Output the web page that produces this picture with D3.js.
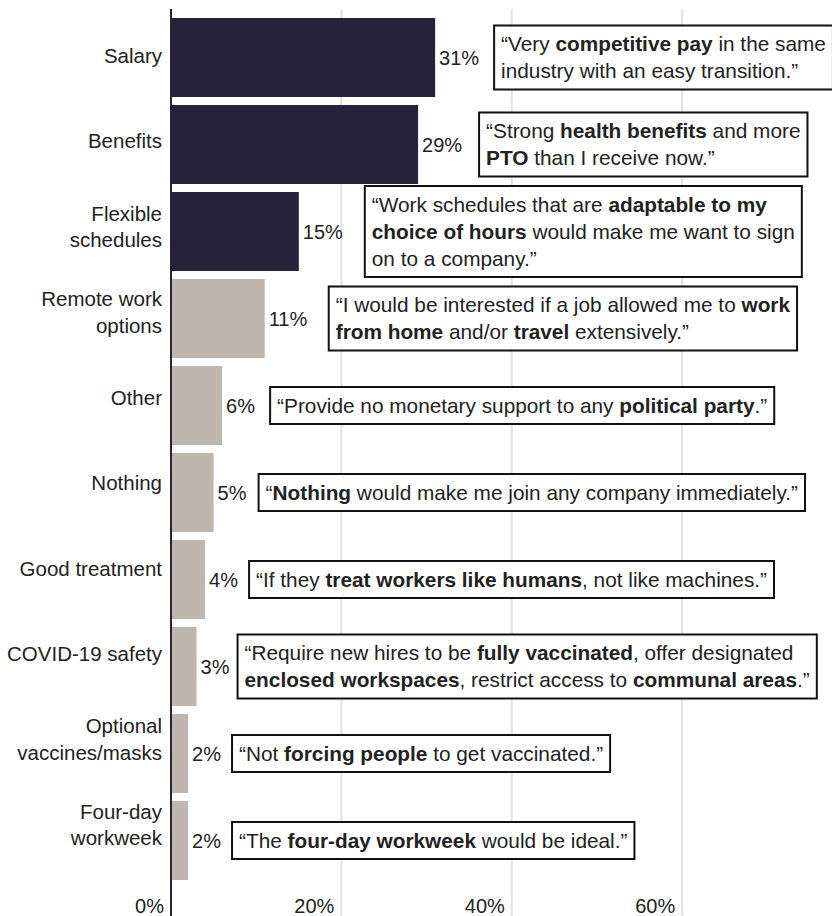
<!DOCTYPE html>
<html>
<head>
<meta charset="utf-8">
<script src="https://cdn.jsdelivr.net/npm/d3@7"></script>
<style>
  html, body { margin: 0; padding: 0; background: #fff; }
  svg { display: block; font-family: "Liberation Sans", Arial, sans-serif; }
</style>
</head>
<body>
<svg id="chart" width="832" height="916"></svg>
<script>
// Survey: what would make you want to join a company immediately (share of respondents)
const categories = [
  "Salary", "Benefits", "Flexible schedules", "Remote work options", "Other",
  "Nothing", "Good treatment", "COVID-19 safety", "Optional vaccines/masks", "Four-day workweek"
];
const categoryLines = [
  ["Salary"], ["Benefits"], ["Flexible", "schedules"], ["Remote work", "options"], ["Other"],
  ["Nothing"], ["Good treatment"], ["COVID-19 safety"], ["Optional", "vaccines/masks"], ["Four-day", "workweek"]
];
const values = [31, 29, 15, 11, 6, 5, 4, 3, 2, 2];
const highlighted = ["Salary", "Benefits", "Flexible schedules"];
const xTicks = [0, 20, 40, 60];

// Respondent quotes; **text** marks the bold phrases
const quotes = [
  ["“Very **competitive pay** in the same", "industry with an easy transition.”"],
  ["“Strong **health benefits** and more", "**PTO** than I receive now.”"],
  ["“Work schedules that are **adaptable to my**", "**choice of hours** would make me want to sign", "on to a company.”"],
  ["“I would be interested if a job allowed me to **work**", "**from home** and/or **travel** extensively.”"],
  ["“Provide no monetary support to any **political party**.”"],
  ["“**Nothing** would make me join any company immediately.”"],
  ["“If they **treat workers like humans**, not like machines.”"],
  ["“Require new hires to be **fully vaccinated**, offer designated", "**enclosed workspaces**, restrict access to **communal areas**.”"],
  ["“Not **forcing people** to get vaccinated.”"],
  ["“The **four-day workweek** would be ideal.”"]
];
// horizontal gap between each bar's end and its quote box
const quoteGap = [59, 61, 66, 64, 48, 45, 44, 41, 44, 44];

const svg = d3.select("#chart");
const W = 832, H = 916;
const FONT = 20, QFONT = 20.8, CFONT = 20.5, LINE = 27;

const x = d3.scaleLinear().domain([0, 80]).range([171, 852.6]);
const y = d3.scaleBand().domain(categories).range([14, 884]).paddingInner(0.092).paddingOuter(0.046);
const yLabel = d3.scalePoint().domain(categories).range([56, 825]);

const dark = "#27223b", light = "#bfb7ae", ink = "#222";

// vertical gridlines
svg.append("g").selectAll("line")
  .data(xTicks.filter(t => t > 0))
  .join("line")
  .attr("x1", d => x(d)).attr("x2", d => x(d))
  .attr("y1", 9).attr("y2", H)
  .attr("stroke", "#e3e3e3").attr("stroke-width", 2);

// x tick labels
svg.append("g").selectAll("text")
  .data(xTicks)
  .join("text")
  .attr("x", d => x(d) - 7)
  .attr("y", 913)
  .attr("text-anchor", "end")
  .attr("font-size", FONT)
  .attr("fill", ink)
  .text(d => d + "%");

// bars
svg.append("g").selectAll("rect")
  .data(categories)
  .join("rect")
  .attr("x", x(0))
  .attr("y", d => y(d))
  .attr("width", (d, i) => x(values[i]) - x(0))
  .attr("height", y.bandwidth())
  .attr("fill", d => highlighted.includes(d) ? dark : light);

// axis line
svg.append("line")
  .attr("x1", x(0)).attr("x2", x(0))
  .attr("y1", 9).attr("y2", H)
  .attr("stroke", dark).attr("stroke-width", 2);

// category labels
const catG = svg.append("g");
categories.forEach((c, i) => {
  const lines = categoryLines[i];
  const cy = yLabel(c);
  const t = catG.append("text")
    .attr("text-anchor", "end")
    .attr("font-size", CFONT)
    .attr("fill", ink);
  lines.forEach((ln, j) => {
    t.append("tspan")
      .attr("x", 162)
      .attr("y", cy + 7 + (j - (lines.length - 1) / 2) * 26.5)
      .text(ln);
  });
});

// value labels
svg.append("g").selectAll("text")
  .data(categories)
  .join("text")
  .attr("x", (d, i) => x(values[i]) + 4)
  .attr("y", d => y(d) + y.bandwidth() / 2 + 7)
  .attr("font-size", FONT)
  .attr("fill", ink)
  .text((d, i) => values[i] + "%");

// quote boxes
function segments(str) {
  return str.split("**").map((s, k) => ({ text: s, bold: k % 2 === 1 })).filter(s => s.text.length);
}
const qG = svg.append("g");
categories.forEach((c, i) => {
  const lines = quotes[i];
  const boxH = LINE * lines.length + 10;
  const cy = y(c) + y.bandwidth() / 2;
  const bx = x(values[i]) + quoteGap[i];
  const by = cy - boxH / 2;
  const g = qG.append("g");
  const rect = g.append("rect")
    .attr("x", bx).attr("y", by)
    .attr("height", boxH)
    .attr("fill", "#fff")
    .attr("stroke", "#111").attr("stroke-width", 2);
  let maxW = 0;
  lines.forEach((ln, j) => {
    const t = g.append("text")
      .attr("x", bx + 7)
      .attr("y", by + 5 + LINE / 2 + j * LINE + 7)
      .attr("font-size", QFONT)
      .attr("fill", ink);
    segments(ln).forEach(s => {
      t.append("tspan")
        .attr("font-weight", s.bold ? "bold" : null)
        .text(s.text);
    });
    maxW = Math.max(maxW, t.node().getComputedTextLength());
  });
  rect.attr("width", maxW + 14);
});
</script>
</body>
</html>
